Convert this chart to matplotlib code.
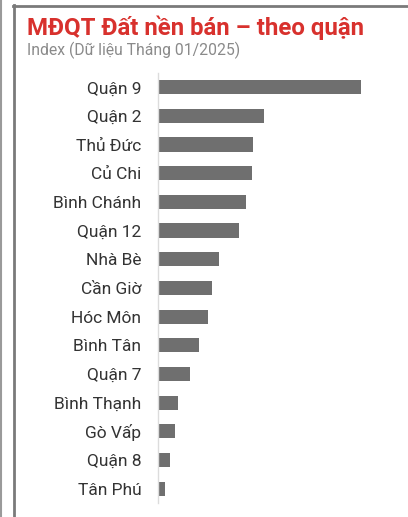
import matplotlib
matplotlib.use("Agg")
import matplotlib.pyplot as plt
from matplotlib.lines import Line2D

# Du lieu (indice relativo, lido pelo comprimento das barras)
quan = ["Quận 9", "Quận 2", "Thủ Đức", "Củ Chi", "Bình Chánh", "Quận 12",
        "Nhà Bè", "Cần Giờ", "Hóc Môn", "Bình Tân", "Quận 7", "Bình Thạnh",
        "Gò Vấp", "Quận 8", "Tân Phú"]
chi_so = [203, 106, 95, 94, 88, 81, 61, 54, 50, 41, 32, 20, 17, 12, 7]

plt.rcParams["font.family"] = ["Roboto", "DejaVu Sans"]

W, H = 408, 517
fig = plt.figure(figsize=(W / 100, H / 100), dpi=100)

# moldura do print (linhas cinzas)
fig.add_artist(Line2D([1 / W, 1 / W], [0, 1], color="#9a9a9a", lw=1.5))
fig.add_artist(Line2D([14 / W, 14 / W], [0, 1 - 5 / H], color="#7a7a7a", lw=2))
fig.add_artist(Line2D([13 / W, 1], [1 - 5.5 / H, 1 - 5.5 / H], color="#7a7a7a", lw=2))

fig.text(27 / W, 1 - 35 / H, "MĐQT Đất nền bán – theo quận", color="#d8312d",
         fontsize=17.3, fontweight="bold", ha="left", va="baseline")
fig.text(27 / W, 1 - 55 / H, "Index (Dữ liệu Tháng 01/2025)", color="#8a8a8a",
         fontsize=11.3, ha="left", va="baseline")

ax = fig.add_axes([158 / W, 14 / H, 232 / W, 430 / H])
y = list(range(len(quan)))
ax.barh(y, chi_so, height=0.5, color="#6f6f6f")
ax.set_xlim(0, 232)
ax.set_ylim(len(quan) - 0.5, -0.5)
ax.set_yticks(y)
ax.set_yticklabels(quan, fontsize=12.5, color="#333333")
ax.tick_params(axis="y", length=0, pad=12)
ax.set_xticks([])
for s in ["top", "right", "bottom"]:
    ax.spines[s].set_visible(False)
ax.spines["left"].set_color("#dcdcdc")
ax.spines["left"].set_linewidth(1)

fig.savefig("out.png", dpi=100)
